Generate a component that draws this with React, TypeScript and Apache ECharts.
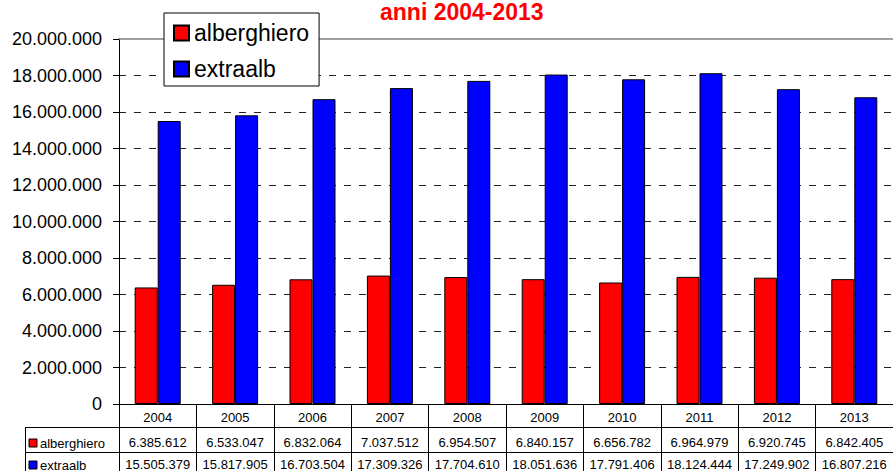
import React, { useEffect, useRef } from "react";
import * as echarts from "echarts";

const years = ["2004", "2005", "2006", "2007", "2008", "2009", "2010", "2011", "2012", "2013"];
const seriesNames = ["alberghiero", "extraalb"];
const alberghiero = [6385612, 6533047, 6832064, 7037512, 6954507, 6840157, 6656782, 6964979, 6920745, 6842405];
const extraalb = [15505379, 15817905, 16703504, 17309326, 17704610, 18051636, 17791406, 18124444, 17249902, 16807216];
const colors = ["#FF0000", "#0000FF"];
const titleText = "anni 2004-2013";

const FONT = "'Liberation Sans', Arial, sans-serif";
const fmt = (n: number) => String(n).replace(/\B(?=(\d{3})+(?!\d))/g, ".");

export default function App() {
  const ref = useRef<HTMLDivElement>(null);
  useEffect(() => {
    if (!ref.current) return;
    const chart = echarts.init(ref.current, null, { renderer: "svg" });
    const tableAxis = (data: string[], offset: number, tickLen: number, margin: number) => ({
      type: "category",
      position: "bottom",
      offset,
      data,
      boundaryGap: true,
      axisLine: { show: true, lineStyle: { color: "#000", width: 1 } },
      axisTick: { show: true, interval: 0, length: tickLen, lineStyle: { color: "#000" } },
      axisLabel: { interval: 0, margin, fontSize: 13, color: "#000", fontFamily: FONT },
      splitLine: { show: false },
    });
    chart.setOption({
      animation: false,
      backgroundColor: "#fff",
      title: {
        text: titleText,
        left: 380,
        top: 0,
        padding: 0,
        textStyle: { color: "#FF0000", fontSize: 23, lineHeight: 24, fontWeight: "bold", fontFamily: FONT },
      },
      legend: {
        orient: "vertical",
        left: 164,
        top: 13,
        padding: [8, 10, 5, 9],
        itemGap: 12,
        itemWidth: 15,
        itemHeight: 15,
        icon: "rect",
        backgroundColor: "#fff",
        borderColor: "#000",
        borderWidth: 1,
        borderRadius: 0,
        data: seriesNames,
        textStyle: { fontSize: 23, lineHeight: 24, color: "#000", fontFamily: FONT },
      },
      grid: { left: 119, top: 39, right: -6, bottom: 67, containLabel: false },
      xAxis: [
        tableAxis(years, 0, 23, 7),
        tableAxis(alberghiero.map(fmt), 23, 25, 9),
        tableAxis(extraalb.map(fmt), 48, 22, 6),
        {
          type: "category",
          position: "top",
          data: years,
          axisLine: { show: true, lineStyle: { color: "#808080", width: 1.5 } },
          axisTick: { show: false },
          axisLabel: { show: false },
        },
      ],
      yAxis: {
        type: "value",
        min: 0,
        max: 20000000,
        interval: 2000000,
        axisLine: { show: true, lineStyle: { color: "#000", width: 1 } },
        axisTick: { show: true, length: 6, lineStyle: { color: "#000" } },
        axisLabel: { margin: 17, fontSize: 18, color: "#000", fontFamily: FONT, formatter: (v: number) => fmt(v) },
        splitLine: { show: true, showMaxLine: false, lineStyle: { color: "#222", type: [7, 8], width: 1 } },
      },
      series: [
        {
          name: seriesNames[0],
          type: "bar",
          data: alberghiero,
          barWidth: 23,
          barGap: "0%",
          itemStyle: { color: colors[0], borderColor: "#000", borderWidth: 1 },
        },
        {
          name: seriesNames[1],
          type: "bar",
          data: extraalb,
          barWidth: 23,
          barGap: "0%",
          itemStyle: { color: colors[1], borderColor: "#000", borderWidth: 1 },
        },
      ],
      graphic: [
        { type: "line", shape: { x1: 25, y1: 427.5, x2: 119, y2: 427.5 }, style: { stroke: "#000", lineWidth: 1 } },
        { type: "line", shape: { x1: 25, y1: 452.5, x2: 119, y2: 452.5 }, style: { stroke: "#000", lineWidth: 1 } },
        { type: "line", shape: { x1: 25.5, y1: 427, x2: 25.5, y2: 471 }, style: { stroke: "#000", lineWidth: 1 } },
        ...seriesNames.flatMap((name, i) => {
          const cy = i === 0 ? 443 : 465;
          return [
            { type: "rect", shape: { x: 29, y: cy - 4, width: 8, height: 8 }, style: { fill: colors[i], stroke: "#000", lineWidth: 1 } },
            {
              type: "text",
              x: 40,
              y: cy,
              style: { text: name, fill: "#000", fontSize: 13, fontFamily: FONT, textVerticalAlign: "middle", verticalAlign: "middle" },
            },
          ];
        }),
      ],
    });
    return () => chart.dispose();
  }, []);
  return <div ref={ref} style={{ width: 893, height: 471, position: "absolute", left: 0, top: 0 }} />;
}
